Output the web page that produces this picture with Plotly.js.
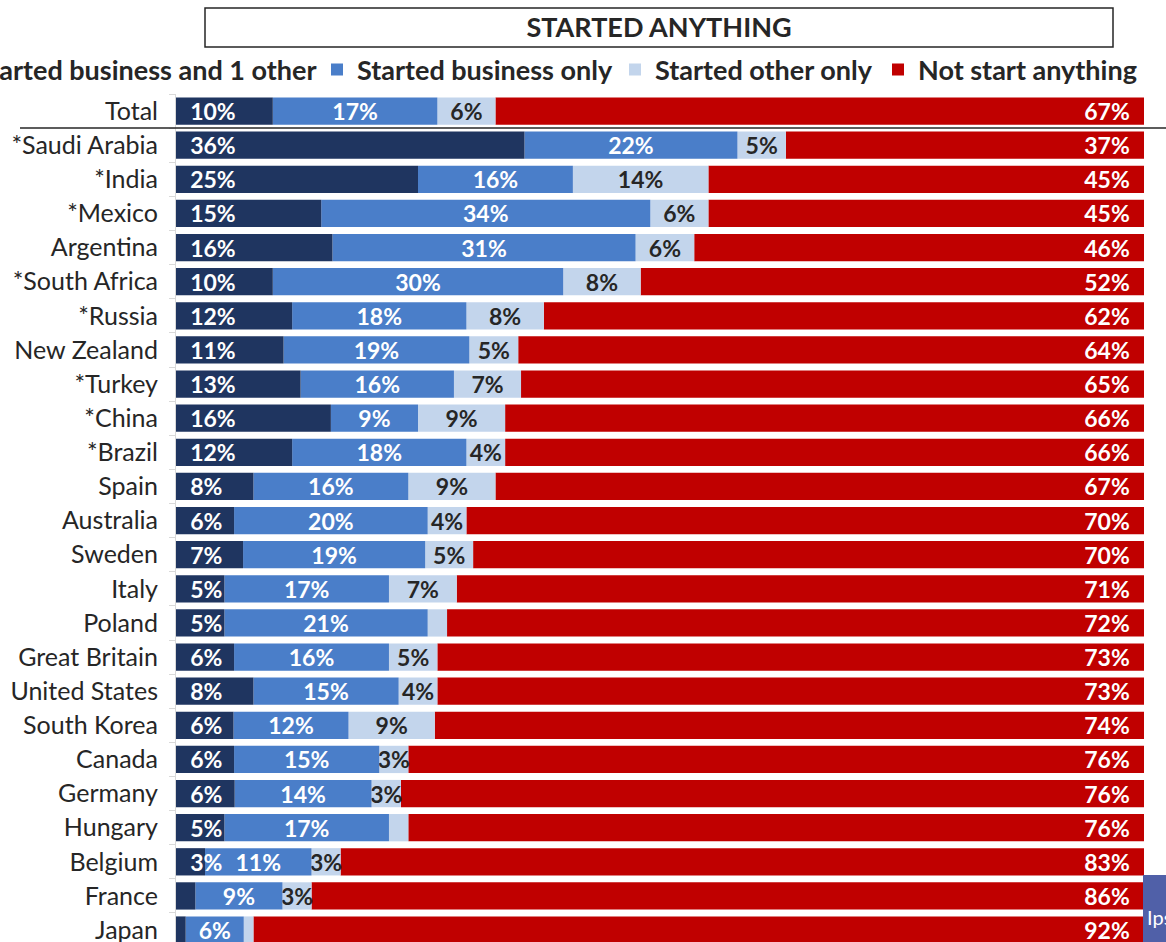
<!DOCTYPE html>
<html>
<head>
<meta charset="utf-8">
<script src="https://cdn.plot.ly/plotly-3.0.1.min.js"></script>
<style>
html,body{margin:0;padding:0;background:#fff;overflow:hidden;}
#chart{width:1166px;height:942px;}
</style>
</head>
<body>
<div id="chart"></div>
<script>
const categories = ['Total','*Saudi Arabia','*India','*Mexico','Argentina','*South Africa','*Russia','New Zealand','*Turkey','*China','*Brazil','Spain','Australia','Sweden','Italy','Poland','Great Britain','United States','South Korea','Canada','Germany','Hungary','Belgium','France','Japan'];
const businessAndOther = [10,36,25,15,16,10,12,11,13,16,12,8,6,7,5,5,6,8,6,6,6,5,3,2,1];
const businessOnly = [17,22,16,34,31,30,18,19,16,9,18,16,20,19,17,21,16,15,12,15,14,17,11,9,6];
const otherOnly = [6,5,14,6,6,8,8,5,7,9,4,9,4,5,7,2,5,4,9,3,3,2,3,3,1];
const notStarted = [67,37,45,45,46,52,62,64,65,66,66,67,70,70,71,72,73,73,74,76,76,76,83,86,92];
const seriesNames = ['Started business and 1 other','Started business only','Started other only','Not start anything'];
const chartTitle = 'STARTED ANYTHING';

const colors = ['#1f3560','#4a7ec9','#c3d5ec','#c00000'];
const textColors = ['#ffffff','#ffffff','#262626','#ffffff'];
const anchors = ['start','middle','middle','end'];
const series = [businessAndOther, businessOnly, otherOnly, notStarted];

// 100% stacked: normalise each row and compute bases
const totals = categories.map((c,i)=>series.reduce((s,a)=>s+a[i],0));
const NB = '\u00a0';
function label(v, k){
  if (v < 3) return '';
  const t = v + '%';
  if (k === 0) return NB+NB+t;
  if (k === 3) return t+NB+NB;
  return t;
}
const built = series.map((vals,k)=>{
  const widths = vals.map((v,i)=>v*100/totals[i]);
  const bases = vals.map((v,i)=>{
    let b=0; for(let j=0;j<k;j++) b += series[j][i]*100/totals[i]; return b;
  });
  return {
    type:'bar', orientation:'h', name: seriesNames[k],
    y: categories, x: widths, base: bases,
    marker:{color: colors[k], line:{width:0}},
    text: vals.map(v=>label(v,k)),
    textposition:'inside', insidetextanchor: anchors[k],
    constraintext:'none', textangle:0, cliponaxis:false,
    textfont:{family:'Lato', size:23, weight:'bold', color:textColors[k]},
    hoverinfo:'skip',
    legend: k===0 ? 'legend' : 'legend'+(k+1),
    showlegend:true
  };
});
// draw order: red first, then light, medium, dark so overflow text stays visible
const traces = [built[3], built[2], built[1], built[0]];

const L = 176, W = 968, T = 94, H = 848;
const px = v => (v - L)/W;
const py = v => (942 - v)/H;

function legendAt(xpx){
  return {orientation:'h', x: px(xpx), xanchor:'left', y: py(70), yanchor:'middle',
    bgcolor:'rgba(0,0,0,0)', borderwidth:0,
    font:{family:'Lato', size:27, weight:'bold', color:'#262626'}};
}

const layout = {
  width:1166, height:942,
  margin:{l:L, r:22, t:T, b:0, autoexpand:false},
  paper_bgcolor:'#ffffff', plot_bgcolor:'#ffffff',
  barmode:'overlay', bargap:0.2,
  title:{text: chartTitle, x: px(659), xref:'paper', xanchor:'center', y: 1-28/942, yanchor:'middle',
    font:{family:'Lato', size:27, weight:'bold', color:'#262626'}},
  xaxis:{range:[0,100], visible:false, fixedrange:true},
  yaxis:{type:'category', categoryorder:'array', categoryarray:categories,
    range:[24.35,-0.5], showgrid:false, zeroline:false,
    showline:true, linecolor:'#d9d9d9', linewidth:1,
    ticks:'outside', tickson:'boundaries', ticklen:6, tickcolor:'#d9d9d9',
    ticklabelstandoff:12,
    tickfont:{family:'Lato', size:25, color:'#262626'}, fixedrange:true},
  legend: legendAt(-65),
  legend2: legendAt(317),
  legend3: legendAt(615),
  legend4: legendAt(878),
  shapes:[
    {type:'rect', xref:'paper', yref:'paper', x0:px(205), x1:px(1113), y0:py(47), y1:py(8),
     line:{color:'#262626', width:1.5}, fillcolor:'rgba(0,0,0,0)', layer:'below'},
    {type:'line', xref:'paper', yref:'y', x0:px(20), x1:px(1166), y0:0.5, y1:0.5,
     line:{color:'#262626', width:1.5}, layer:'above'},
    {type:'rect', xref:'paper', yref:'paper', x0:px(1143), x1:px(1170), y0:py(945), y1:py(875),
     line:{width:0}, fillcolor:'#5060a8', layer:'above'}
  ],
  annotations:[
    {text:'Ipsos', xref:'paper', yref:'paper', x:px(1145), y:py(917), xanchor:'left', yanchor:'middle',
     showarrow:false, font:{family:'Lato', size:20, color:'#ffffff'}}
  ]
};

Plotly.newPlot('chart', traces, layout, {staticPlot:true, displayModeBar:false});
</script>
</body>
</html>
